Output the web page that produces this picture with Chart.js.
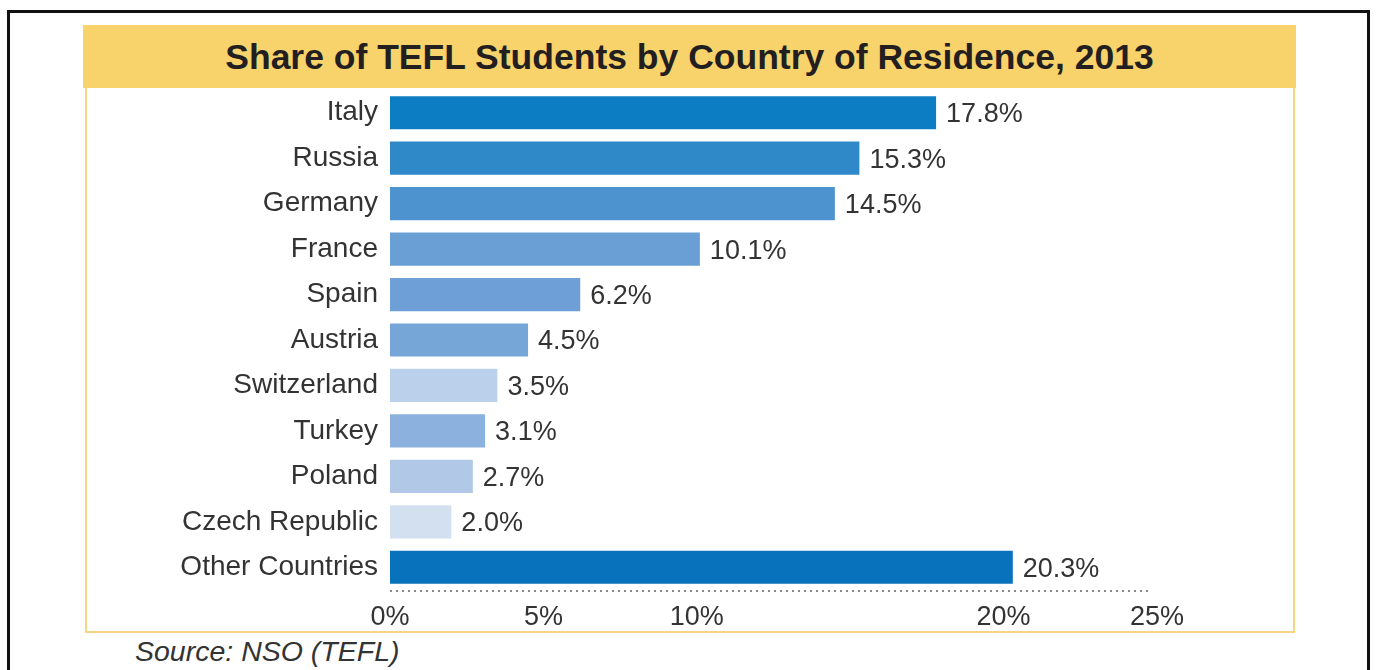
<!DOCTYPE html>
<html>
<head>
<meta charset="utf-8">
<script src="https://cdn.jsdelivr.net/npm/chart.js@4"></script>
<style>
    html, body { margin: 0; padding: 0; background: #fff; overflow: hidden; }
    body { width: 1376px; height: 670px; position: relative; font-family: "Liberation Sans", Arial, sans-serif; }
    .frame { position: absolute; left: 7px; top: 10px; width: 1357px; height: 700px; border: 3px solid #111; border-bottom: none; }
    .title-band { position: absolute; left: 83px; top: 25px; width: 1213px; height: 63px; background: #f8d26a;
        display: flex; align-items: center; justify-content: center; font-weight: bold; font-size: 35.5px; color: #231f20; padding-top: 1px; box-sizing: border-box; }
    .box { position: absolute; left: 85px; top: 88px; width: 1206px; height: 543px; border: 2px solid #f5d57f; border-top: none; }
    .source { position: absolute; left: 135px; top: 635px; font-style: italic; font-size: 28.5px; color: #333; }
    #chart { position: absolute; left: 0; top: 0; }
</style>
</head>
<body>
<div class="frame"></div>
<div class="title-band">Share of TEFL Students by Country of Residence, 2013</div>
<div class="box"></div>
<div class="source">Source: NSO (TEFL)</div>
<canvas id="chart" width="1376" height="670"></canvas>

<script>
// Data
const countries = ['Italy', 'Russia', 'Germany', 'France', 'Spain', 'Austria',
    'Switzerland', 'Turkey', 'Poland', 'Czech Republic', 'Other Countries'];
const shares = [17.8, 15.3, 14.5, 10.1, 6.2, 4.5, 3.5, 3.1, 2.7, 2.0, 20.3];
const barColors = ['#0c7dc3', '#2f89c9', '#4d93cf', '#6a9fd5', '#6e9fd6', '#76a5d8',
    '#bbd0eb', '#8db1de', '#b1c9e7', '#d3e0ef', '#0872bc'];
const tickValues = [0, 5, 10, 20, 25];

const labelFont = '"Liberation Sans", Arial, sans-serif';

// Value labels at the end of each bar
const valueLabels = {
    id: 'valueLabels',
    afterDatasetsDraw(chart) {
        const ctx = chart.ctx;
        const meta = chart.getDatasetMeta(0);
        ctx.save();
        ctx.font = '27px ' + labelFont;
        ctx.fillStyle = '#333';
        ctx.textBaseline = 'middle';
        ctx.textAlign = 'left';
        meta.data.forEach((bar, i) => {
            ctx.fillText(shares[i].toFixed(1) + '%', bar.x + 10, bar.y + 2);
        });
        ctx.restore();
    }
};

// Dotted baseline under the bars
const dottedAxis = {
    id: 'dottedAxis',
    afterDraw(chart) {
        const ctx = chart.ctx;
        const x = chart.scales.x;
        const y = chart.chartArea.bottom + 1;
        ctx.save();
        ctx.strokeStyle = '#8a8a8a';
        ctx.lineWidth = 2;
        ctx.setLineDash([2, 4]);
        ctx.beginPath();
        ctx.moveTo(x.left, y);
        ctx.lineTo(x.right - 8, y);
        ctx.stroke();
        ctx.restore();
    }
};

const chart = new Chart(document.getElementById('chart').getContext('2d'), {
    type: 'bar',
    data: {
        labels: countries,
        datasets: [{
            data: shares,
            backgroundColor: barColors,
            borderWidth: 0,
            categoryPercentage: 1,
            barPercentage: 0.73
        }]
    },
    options: {
        indexAxis: 'y',
        responsive: false,
        animation: false,
        plugins: {
            legend: { display: false },
            tooltip: { enabled: false }
        },
        layout: { padding: { left: 0, right: 219, top: 90, bottom: 40 } },
        scales: {
            x: {
                min: 0,
                max: 25,
                afterFit(scale) { scale.height = 40; },
                grid: { display: false },
                border: { display: false },
                ticks: {
                    stepSize: 5,
                    padding: 3,
                    color: '#333',
                    font: { family: labelFont, size: 27 },
                    callback: v => tickValues.includes(v) ? v + '%' : ''
                }
            },
            y: {
                afterFit(scale) { scale.width = 390; },
                grid: { display: false, drawTicks: false },
                border: { display: false },
                ticks: {
                    padding: 12,
                    color: '#333',
                    font: { family: labelFont, size: 28 }
                }
            }
        }
    },
    plugins: [valueLabels, dottedAxis]
});
</script>
</body>
</html>
